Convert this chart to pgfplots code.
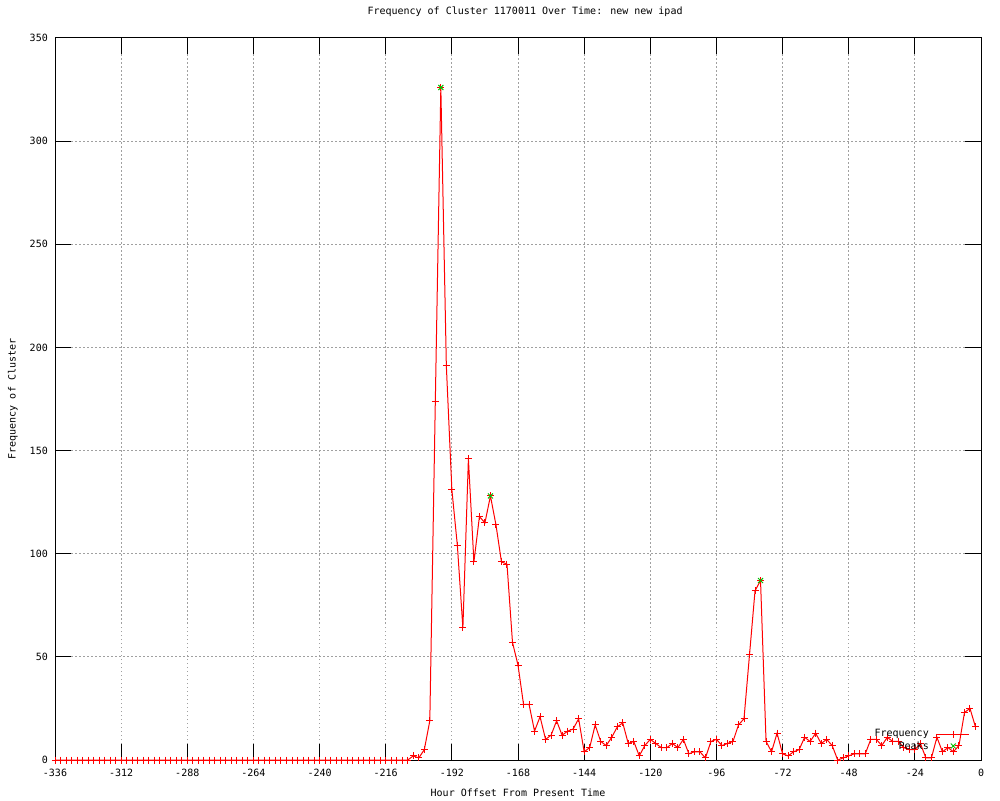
\documentclass[border=0pt]{standalone}
\usepackage{fontspec}
\setmainfont{DejaVu Sans Mono}
\usepackage{pgfplots}
\pgfplotsset{compat=1.18}
\definecolor{gpred}{RGB}{255,0,0}
\definecolor{gpgreen}{RGB}{0,192,0}
\definecolor{gpgrid}{RGB}{160,160,160}
\pgfplotsset{gplegend/.style={legend image code/.code={\draw[mark repeat=2,mark phase=2,##1] plot coordinates {(0pt,0pt)(16pt,0pt)(32pt,0pt)};}}}
\begin{document}
\begin{tikzpicture}
\path[use as bounding box] (0,0) rectangle (1000pt,800pt);
\begin{axis}[
  at={(55pt,40pt)}, anchor=south west,
  scale only axis, width=926pt, height=722pt,
  xmin=-336, xmax=0, ymin=0, ymax=350,
  xtick={-336,-312,...,0}, ytick={0,50,...,350},
  font=\fontsize{10}{12}\selectfont,
  /pgf/number format/assume math mode=true,
  tick align=inside, major tick length=16pt,
  grid=major,
  grid style={gpgrid, dash pattern=on 1.5pt off 2.5pt, line width=1pt},
  axis line style={line width=1pt, black},
  every tick/.style={black, line width=1pt},
  xticklabel style={anchor=center, yshift=-13pt, inner sep=0pt},
  yticklabel style={anchor=east, xshift=-7pt, inner sep=0pt},
  title={Frequency of Cluster 1170011 Over Time: new new ipad},
  title style={at={(axis description cs:0.5076,1.0277)}, anchor=center, inner sep=0pt},
  xlabel={Hour Offset From Present Time},
  xlabel style={at={(axis description cs:0.5,-0.0457)}, anchor=center, inner sep=0pt},
  ylabel={Frequency of Cluster},
  ylabel style={at={(axis description cs:-0.0454,0.5)}, anchor=center, rotate=0, inner sep=0pt},
  clip=false,
  legend style={draw=none, fill=none, at={(axis cs:-4,4)}, anchor=south east,
    inner sep=0pt, row sep=1pt, font=\fontsize{10}{12}\selectfont,
    nodes={inner sep=1pt},
    /tikz/every odd column/.append style={column sep=7pt}},
  legend cell align=right, legend plot pos=right,
]
\addplot[gpred, line width=1pt, mark=+, mark size=3.5pt, gplegend]
table[row sep=\\] {
x y\\
-336 0\\ -334 0\\ -332 0\\ -330 0\\ -328 0\\ -326 0\\ -324 0\\ -322 0\\ -320 0\\ -318 0\\
-316 0\\ -314 0\\ -312 0\\ -310 0\\ -308 0\\ -306 0\\ -304 0\\ -302 0\\ -300 0\\ -298 0\\
-296 0\\ -294 0\\ -292 0\\ -290 0\\ -288 0\\ -286 0\\ -284 0\\ -282 0\\ -280 0\\ -278 0\\
-276 0\\ -274 0\\ -272 0\\ -270 0\\ -268 0\\ -266 0\\ -264 0\\ -262 0\\ -260 0\\ -258 0\\
-256 0\\ -254 0\\ -252 0\\ -250 0\\ -248 0\\ -246 0\\ -244 0\\ -242 0\\ -240 0\\ -238 0\\
-236 0\\ -234 0\\ -232 0\\ -230 0\\ -228 0\\ -226 0\\ -224 0\\ -222 0\\ -220 0\\ -218 0\\
-216 0\\ -214 0\\ -212 0\\ -210 0\\ -208 0\\ -206 2\\ -204 1\\ -202 5\\ -200 19\\ -198 174\\
-196 326\\ -194 191\\ -192 131\\ -190 104\\ -188 64\\ -186 146\\ -184 96\\ -182 118\\ -180 115\\ -178 128\\
-176 114\\ -174 96\\ -172 95\\ -170 57\\ -168 46\\ -166 27\\ -164 27\\ -162 14\\ -160 21\\ -158 10\\
-156 12\\ -154 19\\ -152 12\\ -150 14\\ -148 15\\ -146 20\\ -144 4\\ -142 6\\ -140 17\\ -138 9\\
-136 7\\ -134 11\\ -132 16\\ -130 18\\ -128 8\\ -126 9\\ -124 2\\ -122 7\\ -120 10\\ -118 8\\
-116 6\\ -114 6\\ -112 8\\ -110 6\\ -108 10\\ -106 3\\ -104 4\\ -102 4\\ -100 1\\ -98 9\\
-96 10\\ -94 7\\ -92 8\\ -90 9\\ -88 17\\ -86 20\\ -84 51\\ -82 82\\ -80 87\\ -78 9\\
-76 4\\ -74 13\\ -72 3\\ -70 2\\ -68 4\\ -66 5\\ -64 11\\ -62 9\\ -60 13\\ -58 8\\
-56 10\\ -54 7\\ -52 0\\ -50 1\\ -48 2\\ -46 3\\ -44 3\\ -42 3\\ -40 10\\ -38 10\\
-36 7\\ -34 11\\ -32 9\\ -30 9\\ -28 6\\ -26 5\\ -24 5\\ -22 8\\ -20 1\\ -18 1\\
-16 11\\ -14 4\\ -12 6\\ -10 4\\ -8 7\\ -6 23\\ -4 25\\ -2 16\\
};
\addlegendentry{Frequency}
\addplot[gpgreen, line width=1pt, only marks, mark=x, mark size=3.5pt, gplegend]
table[row sep=\\] {
x y\\
-196 326\\ -178 128\\ -80 87\\
};
\addlegendentry{Peaks}
\end{axis}
\end{tikzpicture}
\end{document}
